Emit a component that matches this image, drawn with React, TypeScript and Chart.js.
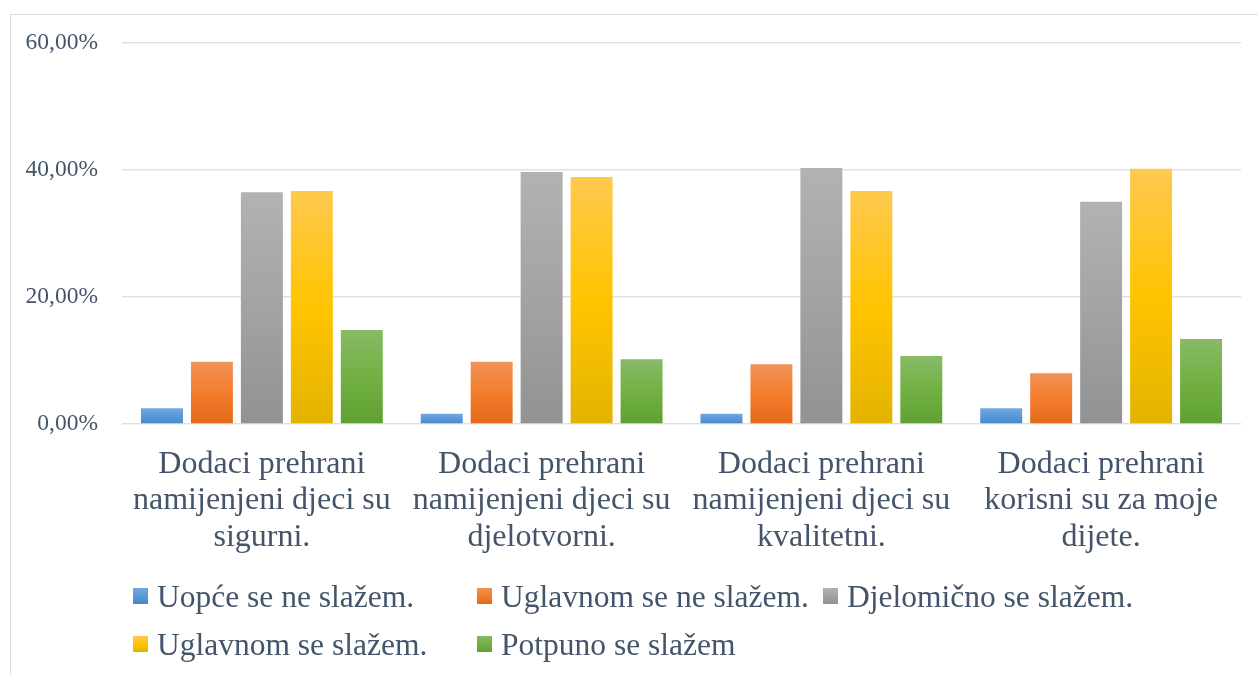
import React, { useEffect, useRef } from "react";
import { Chart, registerables } from "chart.js";

Chart.register(...registerables);

const categories: string[][] = [
  ["Dodaci prehrani", "namijenjeni djeci su", "sigurni."],
  ["Dodaci prehrani", "namijenjeni djeci su", "djelotvorni."],
  ["Dodaci prehrani", "namijenjeni djeci su", "kvalitetni."],
  ["Dodaci prehrani", "korisni su za moje", "dijete."],
];

const seriesNames = [
  "Uopće se ne slažem.",
  "Uglavnom se ne slažem.",
  "Djelomično se slažem.",
  "Uglavnom se slažem.",
  "Potpuno se slažem",
];

const uopceNe = [2.5, 1.6, 1.6, 2.5];
const uglavnomNe = [9.8, 9.8, 9.4, 8.0];
const djelomicno = [36.5, 39.7, 40.3, 35.0];
const uglavnomDa = [36.7, 38.9, 36.7, 40.2];
const potpuno = [14.8, 10.2, 10.7, 13.4];

const yTicks = [0, 20, 40, 60];

const gradientStops: string[][] = [
  ["#74a9e0", "#5a98d8", "#4687cc"],
  ["#f1925a", "#f47d2c", "#e3691a"],
  ["#b2b2b2", "#a3a3a3", "#929292"],
  ["#ffc94f", "#ffc400", "#e3b300"],
  ["#88bb66", "#72b043", "#60a032"],
];

const TEXT = "#44546a";
const FONT = "'Liberation Serif', 'Times New Roman', serif";

function makeGradient(c: CanvasRenderingContext2D, top: number, bottom: number, stops: string[]) {
  const g = c.createLinearGradient(0, top, 0, bottom);
  g.addColorStop(0, stops[0]);
  g.addColorStop(0.5, stops[1]);
  g.addColorStop(1, stops[2]);
  return g;
}

const legendPlugin = {
  id: "gridLegend",
  afterDraw(chart: any) {
    const c: CanvasRenderingContext2D = chart.ctx;
    const colX = [122, 466, 812];
    const rowY = [573, 621];
    c.save();
    c.font = "31.5px " + FONT;
    c.textBaseline = "alphabetic";
    chart.data.datasets.forEach((ds: any, i: number) => {
      const col = i % 3;
      const row = Math.floor(i / 3);
      const x = colX[col];
      const y = rowY[row];
      c.fillStyle = makeGradient(c, y, y + 16, gradientStops[i]);
      c.fillRect(x, y, 15, 16);
      c.fillStyle = TEXT;
      c.fillText(ds.label, x + 24, y + 19);
    });
    c.restore();
  },
};

export default function App() {
  const ref = useRef<HTMLCanvasElement | null>(null);

  useEffect(() => {
    if (!ref.current) return;
    const dataArrays = [uopceNe, uglavnomNe, djelomicno, uglavnomDa, potpuno];
    const chart = new Chart(ref.current, {
      type: "bar",
      data: {
        labels: categories,
        datasets: dataArrays.map((d, i) => ({
          label: seriesNames[i],
          data: d,
          backgroundColor: (ctx: any) => {
            const ch = ctx.chart;
            const stops = gradientStops[i];
            if (!ch.chartArea || ctx.type !== "data" || !ch.scales.y) return stops[1];
            const top = ch.scales.y.getPixelForValue(ctx.raw);
            const base = ch.scales.y.getPixelForValue(0);
            if (!isFinite(top) || !isFinite(base) || top === base) return stops[1];
            return makeGradient(ch.ctx, top, base, stops);
          },
          borderWidth: 0,
          categoryPercentage: 0.893,
          barPercentage: 0.84,
        })),
      },
      options: {
        responsive: false,
        animation: false,
        layout: { padding: { top: 28, right: 17, left: 0, bottom: 101 } },
        plugins: {
          legend: { display: false },
          tooltip: { enabled: false },
        },
        scales: {
          x: {
            grid: { display: false, drawTicks: false },
            border: { display: false },
            ticks: {
              color: TEXT,
              font: { family: FONT, size: 32, lineHeight: 1.14 },
              padding: 22,
              maxRotation: 0,
              autoSkip: false,
            },
            afterFit: (s: any) => {
              s.height = 150;
              s.paddingLeft = 0;
              s.paddingRight = 0;
            },
          },
          y: {
            min: 0,
            max: 60,
            afterBuildTicks: (s: any) => {
              s.ticks = yTicks.map((v) => ({ value: v }));
            },
            grid: { color: "#dde1e7", lineWidth: 1.6, drawTicks: false },
            border: { display: false },
            ticks: {
              color: TEXT,
              font: { family: FONT, size: 23.5 },
              padding: 24,
              callback: (v: any) => Number(v).toFixed(2).replace(".", ",") + "%",
            },
            afterFit: (s: any) => {
              s.width = 111;
              s.paddingTop = 0;
              s.paddingBottom = 0;
            },
          },
        },
      },
      plugins: [legendPlugin],
    });
    return () => chart.destroy();
  }, []);

  return (
    <div style={{ position: "fixed", inset: 0, overflow: "hidden", background: "#fff" }}>
      <div
        style={{
          position: "absolute",
          left: 10,
          top: 14,
          width: 1260,
          height: 700,
          border: "1px solid #dadde2",
          boxSizing: "border-box",
        }}
      >
        <canvas ref={ref} width={1247} height={660} style={{ display: "block" }} />
      </div>
    </div>
  );
}
